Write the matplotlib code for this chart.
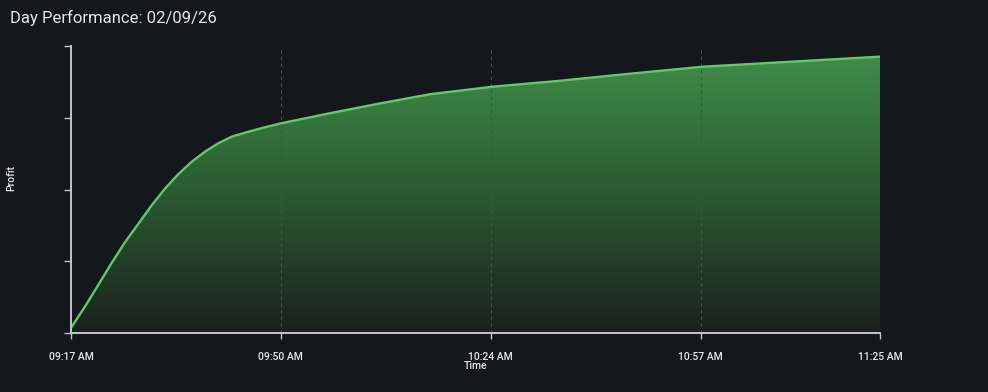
import numpy as np
import matplotlib.pyplot as plt
from matplotlib.colors import LinearSegmentedColormap

plt.rcParams['font.family'] = ['Roboto', 'DejaVu Sans']

# minutes after 09:17 and profit (relative units)
minutes = [0, 2.2, 4.3, 6.4, 8.5, 10.7, 12.8, 14.9, 17.0, 19.1, 21.2,
           23.3, 25.4, 28.0, 30.7, 33.3, 41.0, 48.9, 56.8, 66.6, 77.4,
           87.3, 100.0, 113.7, 128]
profit = [1.8, 9.2, 16.7, 24.3, 31.5, 38.2, 44.6, 50.4, 55.4, 59.7, 63.2,
          66.1, 68.4, 70.1, 71.7, 73.1, 76.6, 80.0, 83.2, 85.8, 87.9,
          90.1, 92.8, 94.5, 96.3]

tick_minutes = [0, 33.2, 66.4, 99.6, 128]
tick_labels = ["09:17 AM", "09:50 AM", "10:24 AM", "10:57 AM", "11:25 AM"]
y_ticks = [0, 25, 50, 75, 100]

bg = '#14171c'
fg = '#e6e6e6'
axis_col = '#c4c6ca'

fig = plt.figure(figsize=(9.88, 3.92), dpi=100, facecolor=bg)
ax = fig.add_axes([0.0719, 0.1505, 0.8188, 0.7321])
ax.set_facecolor(bg)

ax.set_xlim(0, 128)
ax.set_ylim(0, 100)

# gradient fill under the curve
cmap = LinearSegmentedColormap.from_list('g', ['#1b211e', '#2a5a30', '#3f8c48'])
grad = np.linspace(0, 1, 256).reshape(-1, 1)
img = ax.imshow(grad, extent=[0, 128, 0, max(profit)], origin='lower',
                cmap=cmap, aspect='auto', zorder=1)
poly = ax.fill_between(minutes, profit, 0, color='none', lw=0)
clip = poly.get_paths()[0]
img.set_clip_path(clip, transform=ax.transData)

ax.plot(minutes, profit, color='#62c96b', lw=1.7, zorder=3,
        solid_capstyle='round', solid_joinstyle='round')

# grid
for t in tick_minutes[1:]:
    ax.axvline(t, color='#4a4d54', lw=0.8, ls=(0, (3, 3)), zorder=2)

ax.set_xticks(tick_minutes)
ax.set_xticklabels(tick_labels, fontweight='medium')
ax.set_yticks(y_ticks)
ax.set_yticklabels([])

ax.tick_params(axis='x', colors=axis_col, labelcolor=fg, labelsize=7.5,
               length=4, width=1, pad=10)
ax.tick_params(axis='y', colors=axis_col, length=5, width=1)

for s in ['top', 'right']:
    ax.spines[s].set_visible(False)
ax.spines['left'].set_color(axis_col)
ax.spines['left'].set_linewidth(1.4)
ax.spines['left'].set_zorder(4)
ax.spines['bottom'].set_color(axis_col)
ax.spines['bottom'].set_linewidth(1.4)
ax.spines['bottom'].set_linestyle((0, (4, 1)))
ax.spines['bottom'].set_zorder(4)

ax.set_xlabel("Time", color=fg, fontsize=7.5, fontweight='medium', labelpad=-1)
ax.set_ylabel("Profit", color=fg, fontsize=7.5, fontweight='medium')
ax.yaxis.set_label_coords(-0.068, 0.54)

fig.text(10 / 988, 1 - 18 / 392, "Day Performance: 02/09/26", color=fg,
         fontsize=12, va='center', ha='left')

fig.savefig('out.png', dpi=100, facecolor=bg)
